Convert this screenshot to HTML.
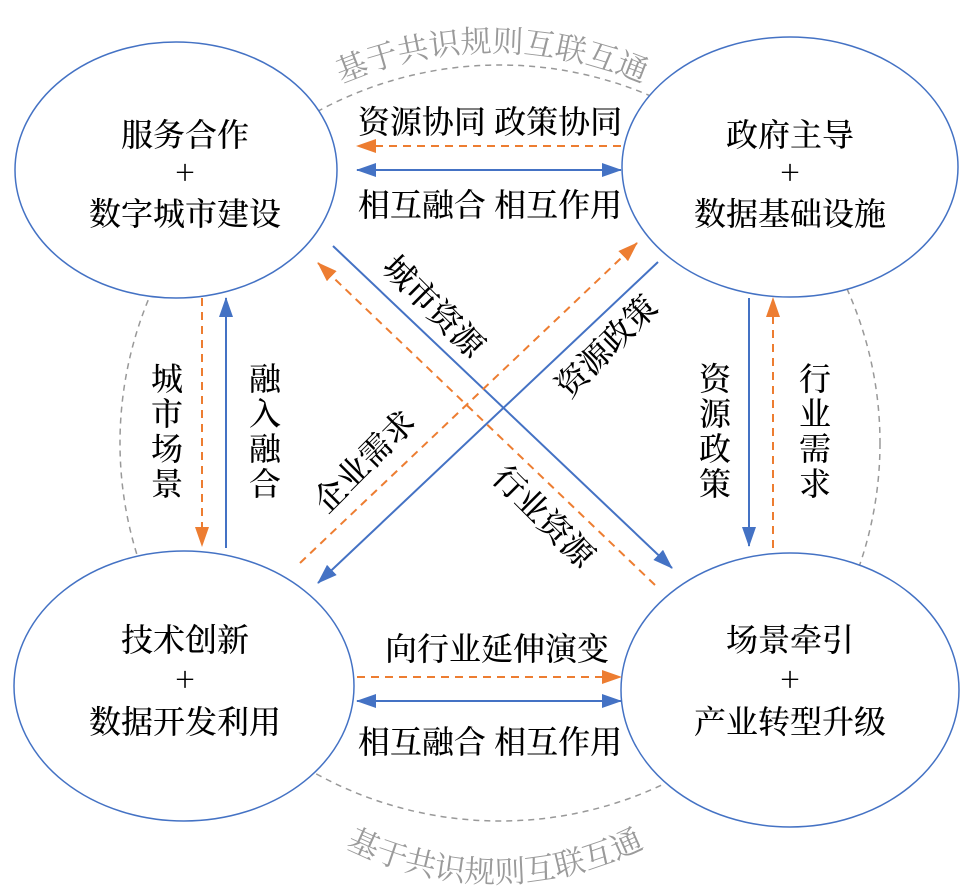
<!DOCTYPE html>
<html><head><meta charset="utf-8"><style>
html,body{margin:0;padding:0;background:#fff;}
svg{display:block}
text{font-family:"Noto Serif CJK SC","Liberation Serif",serif;}
</style></head><body>
<svg width="973" height="886" viewBox="0 0 973 886" xmlns="http://www.w3.org/2000/svg">
<defs>
<marker id="abl" markerWidth="20" markerHeight="14" refX="19" refY="7" orient="auto-start-reverse" markerUnits="userSpaceOnUse"><path d="M0,0 L20,7 L0,14 z" fill="#4472C4"/></marker>
<marker id="ao" markerWidth="20" markerHeight="14" refX="19" refY="7" orient="auto-start-reverse" markerUnits="userSpaceOnUse"><path d="M0,0 L20,7 L0,14 z" fill="#ED7D31"/></marker>
<path id="topArc" d="M 307 100 A 380 380 0 0 1 677 100"/>
<path id="botArc" d="M 310 826 A 330 330 0 0 0 680 826"/>
</defs>
<ellipse cx="500" cy="443" rx="380" ry="378" fill="none" stroke="#999" stroke-width="1.5" stroke-dasharray="6,5"/>
<text font-size="31" fill="#9a9a9a"><textPath href="#topArc" startOffset="50%" text-anchor="middle">基于共识规则互联互通</textPath></text>
<text font-size="31" fill="#9a9a9a"><textPath href="#botArc" startOffset="50%" text-anchor="middle">基于共识规则互联互通</textPath></text>

<g fill="#fff" stroke="#4472C4" stroke-width="1.5">
<ellipse cx="176" cy="170" rx="161" ry="128"/>
<ellipse cx="790" cy="167" rx="168" ry="130"/>
<ellipse cx="184" cy="686" rx="170" ry="135"/>
<ellipse cx="790" cy="690" rx="169" ry="137"/>
</g>

<line x1="621" y1="146" x2="357" y2="146" stroke="#ED7D31" stroke-width="2" stroke-dasharray="8,6" marker-end="url(#ao)"/>
<line x1="357" y1="170" x2="621" y2="170" stroke="#4472C4" stroke-width="2" marker-start="url(#abl)" marker-end="url(#abl)"/>
<line x1="357" y1="677" x2="621" y2="677" stroke="#ED7D31" stroke-width="2" stroke-dasharray="8,6" marker-end="url(#ao)"/>
<line x1="357" y1="701" x2="621" y2="701" stroke="#4472C4" stroke-width="2" marker-start="url(#abl)" marker-end="url(#abl)"/>

<line x1="202" y1="298" x2="202" y2="546" stroke="#ED7D31" stroke-width="2" stroke-dasharray="8,6" marker-end="url(#ao)"/>
<line x1="226" y1="548" x2="226" y2="298" stroke="#4472C4" stroke-width="2" marker-end="url(#abl)"/>
<line x1="749" y1="298" x2="749" y2="546" stroke="#4472C4" stroke-width="2" marker-end="url(#abl)"/>
<line x1="773" y1="548" x2="773" y2="298" stroke="#ED7D31" stroke-width="2" stroke-dasharray="8,6" marker-end="url(#ao)"/>

<line x1="333" y1="246" x2="672" y2="568" stroke="#4472C4" stroke-width="2" marker-end="url(#abl)"/>
<line x1="655" y1="585" x2="318" y2="263" stroke="#ED7D31" stroke-width="2" stroke-dasharray="8,6" marker-end="url(#ao)"/>
<line x1="300" y1="563" x2="637" y2="243" stroke="#ED7D31" stroke-width="2" stroke-dasharray="8,6" marker-end="url(#ao)"/>
<line x1="658" y1="262" x2="318" y2="583" stroke="#4472C4" stroke-width="2" marker-end="url(#abl)"/>

<g font-size="32" fill="#000" text-anchor="middle" dominant-baseline="central" font-weight="500">
<text x="185" y="133">服务合作</text>
<text x="185" y="171">+</text>
<text x="185" y="212">数字城市建设</text>
<text x="790" y="133">政府主导</text>
<text x="790" y="171">+</text>
<text x="790" y="212">数据基础设施</text>
<text x="185" y="638">技术创新</text>
<text x="185" y="678">+</text>
<text x="185" y="720">数据开发利用</text>
<text x="790" y="638">场景牵引</text>
<text x="790" y="678">+</text>
<text x="790" y="720">产业转型升级</text>

<text x="490" y="120">资源协同  政策协同</text>
<text x="490" y="203">相互融合 相互作用</text>
<text x="497" y="647">向行业延伸演变</text>
<text x="490" y="740">相互融合  相互作用</text>

<text x="167" y="377">城</text><text x="167" y="412">市</text><text x="167" y="447">场</text><text x="167" y="482">景</text>
<text x="265" y="377">融</text><text x="265" y="412">入</text><text x="265" y="447">融</text><text x="265" y="482">合</text>
<text x="715" y="377">资</text><text x="715" y="412">源</text><text x="715" y="447">政</text><text x="715" y="482">策</text>
<text x="815" y="377">行</text><text x="815" y="412">业</text><text x="815" y="447">需</text><text x="815" y="482">求</text>

<text transform="translate(435,305) rotate(45)">城市资源</text>
<text transform="translate(605,345) rotate(-45)">资源政策</text>
<text transform="translate(363,460) rotate(-45)">企业需求</text>
<text transform="translate(545,515) rotate(45)">行业资源</text>
</g>
</svg>
</body></html>
